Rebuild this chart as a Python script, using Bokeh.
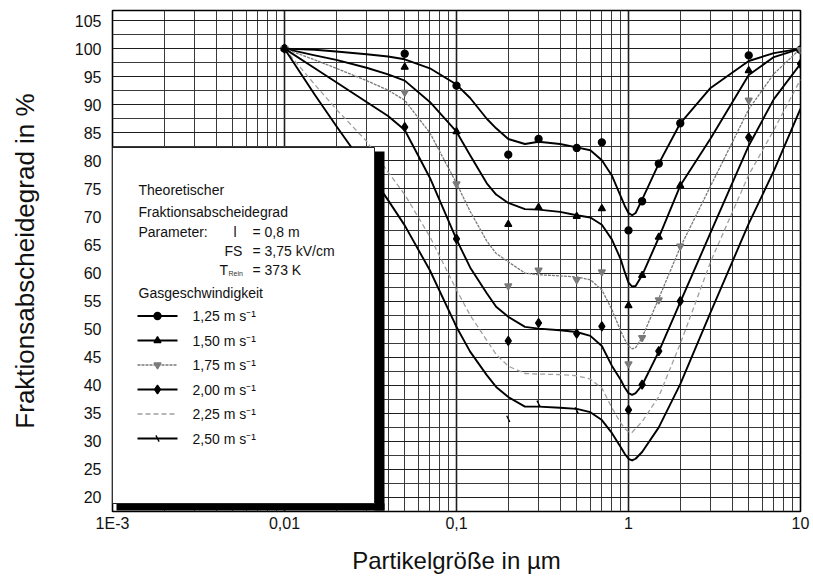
from bokeh.plotting import figure
from bokeh.models import FixedTicker, Range1d
from bokeh.core.properties import value
from bokeh.embed import file_html
from bokeh.resources import INLINE

# ---------------- data ----------------
x_curve = [0.01, 0.015, 0.02, 0.03, 0.04, 0.05, 0.07, 0.1, 0.12, 0.15, 0.17, 0.2, 0.25, 0.3, 0.4,
           0.5, 0.6, 0.7, 0.8, 0.9, 0.95, 1.0, 1.05, 1.1, 1.2, 1.5, 2, 3, 5, 7, 10]
curve_125 = [100, 99.8, 99.5, 99.0, 98.6, 98.1, 96.5, 93.6, 91.2, 87.5, 85.8, 83.9, 83.0, 83.4, 83.0,
             82.4, 81.9, 80.1, 77.4, 73.7, 72.0, 70.7, 70.3, 70.7, 73.1, 79.5, 86.7, 93.0, 97.8, 99.2, 100]
curve_150 = [100, 98.8, 98.0, 96.6, 95.4, 94.3, 90.5, 85.2, 81.0, 76.0, 74.0, 72.5, 71.4, 71.3, 70.9,
             70.3, 69.9, 68.6, 66.0, 62.5, 60.2, 58.3, 57.6, 57.7, 59.6, 66.3, 75.6, 84.0, 95.3, 98.5, 100]
curve_175 = [100, 98.0, 96.5, 94.3, 92.6, 90.8, 85.0, 76.0, 71.0, 65.7, 63.5, 62.0, 60.0, 59.7, 59.5,
             59.3, 58.8, 57.0, 53.5, 49.7, 48.2, 47.0, 46.5, 46.7, 48.5, 55.5, 64.6, 75.5, 89.2, 95.5, 100]
curve_200 = [100, 96.5, 94.0, 90.5, 88.0, 85.5, 77.0, 66.0, 61.0, 56.4, 54.0, 52.2, 50.4, 50.1, 49.8,
             49.5, 48.8, 47.0, 43.5, 41.0, 39.6, 38.6, 38.3, 38.6, 40.0, 46.0, 54.8, 67.2, 82.7, 91.0, 97.3]
curve_225 = [100, 93.6, 89.2, 83.5, 78.0, 74.0, 66.5, 57.0, 52.5, 48.0, 45.5, 43.4, 42.1, 42.0, 41.9,
             41.7, 41.1, 39.5, 36.0, 33.3, 32.3, 31.7, 31.6, 32.3, 33.5, 38.0, 47.4, 62.0, 77.5, 85.5, 94.5]
curve_250 = [100, 91.8, 86.2, 78.6, 73.0, 68.5, 60.5, 50.4, 46.0, 41.8, 39.7, 37.9, 36.2, 36.2, 36.0,
             35.8, 35.2, 33.8, 31.5, 29.0, 27.8, 26.9, 26.6, 26.9, 28.1, 32.5, 40.2, 53.0, 68.8, 78.2, 89.3]

x_points = [0.01, 0.05, 0.1, 0.2, 0.3, 0.5, 0.7, 1.0, 1.2, 1.5, 2, 5, 10]
pts_125 = [100, 99.1, 93.4, 81.1, 83.9, 82.3, 83.3, 67.6, 72.8, 79.5, 86.7, 98.8, 99.8]
pts_150 = [100, 96.7, 85.2, 68.7, 71.7, 70.1, 71.5, 54.2, 59.6, 66.4, 75.6, 96.1, 99.8]
pts_175 = [100, 92.2, 75.9, 57.7, 60.5, 58.8, 60.2, 43.8, 48.5, 55.2, 64.8, 90.8, 99.8]
pts_200 = [100, 86.0, 66.1, 47.9, 51.1, 49.2, 50.5, 35.6, 40.1, 46.1, 55.0, 84.2, 97.3]
x_points_250 = [0.01, 0.1, 0.2, 0.3, 0.5]
pts_250 = [100, 50.4, 34.0, 36.7, 35.5]

series_labels = ["1,25 m s\u207b\u00b9", "1,50 m s\u207b\u00b9", "1,75 m s\u207b\u00b9",
                 "2,00 m s\u207b\u00b9", "2,25 m s\u207b\u00b9", "2,50 m s\u207b\u00b9"]
x_tick_values = [0.001, 0.01, 0.1, 1, 10]
x_tick_labels = ["1E-3", "0,01", "0,1", "1", "10"]
y_tick_values = list(range(20, 106, 5))

# ---------------- figure ----------------
X0, X1 = 0.001, 10
Y0, Y1 = 17.5, 106.8
FW, FH = 688, 501
FL, FT = 112, 10   # page position of frame (left, top)

FONT = "Liberation Sans"

p = figure(x_axis_type="log", x_range=Range1d(X0, X1), y_range=Range1d(Y0, Y1),
           frame_width=FW, frame_height=FH, output_backend="svg", toolbar_location=None,
           min_border_left=FL, min_border_right=10, min_border_top=FT,
           min_border_bottom=64, background_fill_color="white")


def px2x(px):
    return 10 ** (-3 + (px - FL) / (FW / 4.0))


def py2y(py):
    return Y0 + (FT + FH - py) * (Y1 - Y0) / FH


minor_x = []
for d in x_tick_values[:-1]:
    for k in range(2, 10):
        minor_x.append(d * k)
p.xaxis.ticker = FixedTicker(ticks=x_tick_values, minor_ticks=minor_x)
p.xaxis.major_label_overrides = {v: l for v, l in zip(x_tick_values, x_tick_labels)}
p.yaxis.ticker = FixedTicker(ticks=y_tick_values,
                             minor_ticks=[v - 2.5 for v in y_tick_values] + [107.5])

for g in (p.xgrid, p.ygrid):
    g.grid_line_color = "#1e1e1e"
    g.grid_line_width = 1.1
    g.minor_grid_line_color = "#3a3a3a"
    g.minor_grid_line_width = 1
p.xgrid.grid_line_width = 1.6

for ax in (p.xaxis, p.yaxis):
    ax.axis_line_color = None
    ax.major_tick_line_color = None
    ax.minor_tick_line_color = None
    ax.major_tick_out = 0
    ax.minor_tick_out = 0
    ax.major_label_text_font = FONT
    ax.major_label_text_font_size = "16px"
    ax.major_label_text_color = "#111111"
    ax.axis_label_text_font = FONT
    ax.axis_label_text_font_style = "normal"
    ax.axis_label_text_color = "#111111"

p.xaxis.axis_label_text_font_size = "24px"
p.yaxis.axis_label_text_font_size = "26px"
p.xaxis.axis_label = "Partikelgröße in µm"
p.yaxis.axis_label = "Fraktionsabscheidegrad in %"
p.xaxis.major_label_standoff = 3
p.yaxis.major_label_standoff = 11
p.xaxis.axis_label_standoff = 12
p.yaxis.axis_label_standoff = 32

p.outline_line_color = "black"
p.outline_line_width = 1.6

# ---------------- curves ----------------
styles = [
    dict(color="black", width=1.9, dash="solid", marker="circle", msize=7, mcolor="black", angle=0),
    dict(color="black", width=1.9, dash="solid", marker="triangle", msize=7, mcolor="black", angle=0),
    dict(color="#7a7a7a", width=1.3, dash="3 1", marker="inverted_triangle", msize=7, mcolor="#7a7a7a", angle=0),
    dict(color="black", width=1.9, dash="solid", marker="diamond", msize=9, mcolor="black", angle=0),
    dict(color="#a0a0a0", width=1.3, dash="5 3", marker=None, msize=0, mcolor="#a0a0a0", angle=0),
    dict(color="black", width=1.9, dash="solid", marker="dash", msize=7, mcolor="black", angle=-1.1),
]
curves = [curve_125, curve_150, curve_175, curve_200, curve_225, curve_250]
points = [(x_points, pts_125), (x_points, pts_150), (x_points, pts_175),
          (x_points, pts_200), None, (x_points_250, pts_250)]

for cy, st in zip(curves, styles):
    p.line(x_curve, cy, line_color=st["color"], line_width=st["width"],
           line_dash=st["dash"], line_join="round")
for pt, st in zip(points, styles):
    if pt is None:
        continue
    p.scatter(pt[0], pt[1], marker=st["marker"], size=st["msize"], angle=st["angle"],
              fill_color=st["mcolor"], line_color=st["mcolor"], line_width=1.3)

# ---------------- legend box with shadow ----------------
bx_l, bx_r, bx_t, bx_b = px2x(FL), px2x(374), py2y(147), py2y(503)
p.quad(left=[px2x(374)], right=[px2x(384)], top=[py2y(151)], bottom=[py2y(510)],
       fill_color="black", line_color=None)
p.quad(left=[px2x(116)], right=[px2x(384)], top=[py2y(503)], bottom=[py2y(510)],
       fill_color="black", line_color=None)
p.quad(left=[bx_l], right=[bx_r], top=[bx_t], bottom=[bx_b],
       fill_color="white", line_color="#222222", line_width=1)

TS = "14px"
txt_x = []
txt_y = []
txt_s = []


def add_text(px, py, s):
    txt_x.append(px2x(px))
    txt_y.append(py2y(py))
    txt_s.append(s)


add_text(138, 189, "Theoretischer")
add_text(138, 211, "Fraktionsabscheidegrad")
add_text(138, 231, "Parameter:")
add_text(233, 231, "l")
add_text(252, 231, "=  0,8 m")
add_text(224, 250, "FS")
add_text(252, 250, "=  3,75 kV/cm")
add_text(219, 269, "T")
add_text(252, 269, "=  373 K")
add_text(138, 292, "Gasgeschwindigkeit")

row_y = [315.5 + 24.5 * i for i in range(6)]
for lab, ry in zip(series_labels, row_y):
    add_text(192, ry, lab)

p.text(x=txt_x, y=txt_y, text=txt_s, text_font=value(FONT), text_font_size=TS,
       text_baseline="middle", text_align="left", text_color="#111111")
p.text(x=[px2x(228)], y=[py2y(273)], text=["Rein"], text_font=value(FONT),
       text_font_size="7px", text_baseline="middle", text_align="left", text_color="#333333")

for st, ry in zip(styles, row_y):
    p.line([px2x(137), px2x(177)], [py2y(ry), py2y(ry)], line_color=st["color"],
           line_width=st["width"], line_dash=st["dash"])
    if st["marker"] is not None:
        p.scatter([px2x(157)], [py2y(ry)], marker=st["marker"], size=st["msize"],
                  angle=st["angle"], fill_color=st["mcolor"], line_color=st["mcolor"],
                  line_width=1.3)

open("out.html", "w").write(file_html(p, INLINE))
